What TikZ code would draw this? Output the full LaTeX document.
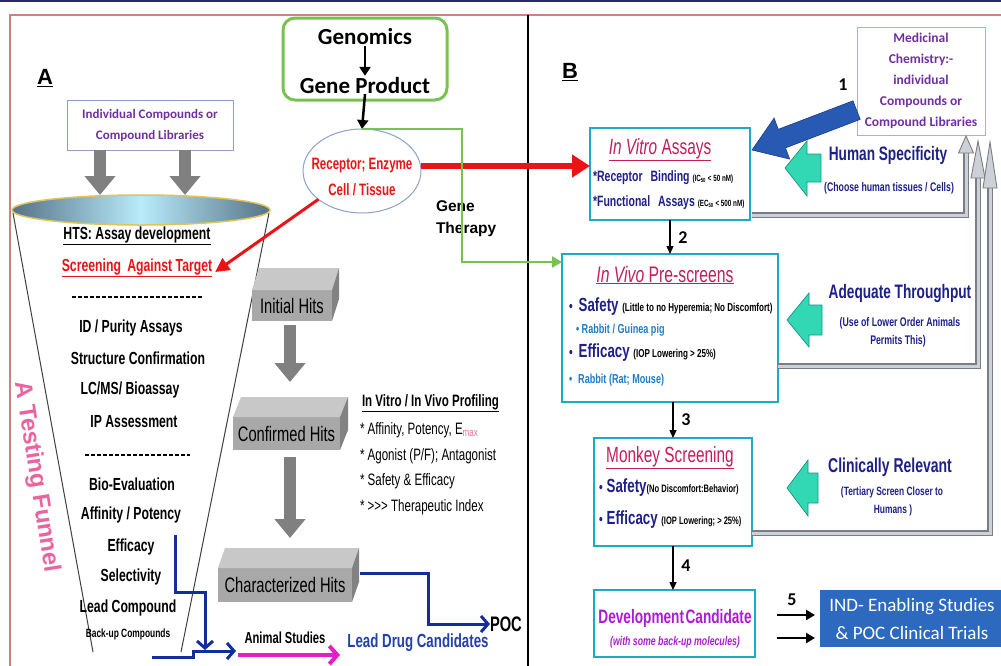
\documentclass[tikz,border=0pt]{standalone}
\usepackage{fontspec}
\setmainfont{Liberation Sans}
\newfontfamily\narrow[FakeStretch=0.7]{Liberation Sans}
\newfontfamily\calib{Carlito}
\usetikzlibrary{arrows.meta,shapes.geometric,calc}
\definecolor{navy}{RGB}{30,32,135}
\definecolor{crim}{RGB}{195,30,90}
\definecolor{purp}{RGB}{112,48,160}
\definecolor{teal2}{RGB}{30,170,195}
\definecolor{turq}{RGB}{50,215,180}
\definecolor{turqd}{RGB}{20,150,130}
\definecolor{indblue}{RGB}{45,105,190}
\definecolor{arrblue}{RGB}{40,90,180}
\definecolor{arrblued}{RGB}{25,60,140}
\definecolor{gboxc}{RGB}{120,195,80}
\definecolor{redA}{RGB}{235,20,20}
\definecolor{pathblue}{RGB}{20,45,155}
\definecolor{ldcblue}{RGB}{35,65,170}
\definecolor{magA}{RGB}{230,30,200}
\definecolor{devmag}{RGB}{170,30,210}
\definecolor{ltblue}{RGB}{30,125,200}
\definecolor{pinkF}{RGB}{235,100,160}
\definecolor{bordred}{RGB}{205,130,130}
\definecolor{topnavy}{RGB}{40,40,110}
\definecolor{cmpbox}{RGB}{140,160,200}
\definecolor{medbox}{RGB}{120,200,215}
\definecolor{gold}{RGB}{225,195,90}
\definecolor{slate}{RGB}{85,115,135}
\definecolor{lcyan}{RGB}{185,235,250}
\definecolor{hitfront}{RGB}{168,168,168}
\definecolor{hittop}{RGB}{200,200,200}
\definecolor{hitside}{RGB}{130,130,130}
\definecolor{arrgray}{RGB}{128,128,128}
\definecolor{fbdark}{RGB}{120,125,135}
\definecolor{fblight}{RGB}{205,208,212}
\newcommand\fsz[1]{\fontsize{#1}{\dimexpr #1pt*6/5\relax}\selectfont}
\begin{document}
\begin{tikzpicture}[x=1pt,y=-1pt,
  every node/.style={inner sep=0pt,outer sep=0pt},
  ft/.style={font=\narrow\bfseries\fsz{17.5}},
  hit/.style={fill=hitfront, font=\narrow\fsz{21}},
  grayarr/.style={draw=arrgray, line width=12pt, -{Triangle[width=30pt,length=19pt]}},
  blk/.style={draw=black, line width=2.5pt, -{Triangle[width=11pt,length=9pt]}},
  thinblk/.style={draw=black, line width=1.3pt, -{Triangle[width=7pt,length=8pt]}},
  bpath/.style={draw=pathblue, line width=3pt, -{Straight Barb[length=7pt,width=16pt]}},
  fb/.style={draw=fbdark, line width=1.1pt, double=fblight, double distance=3pt},
  fbhead/.style={fill=fblight, draw=fbdark, line width=0.9pt},
  tq/.style={fill=turq, draw=turqd, line width=0.7pt},
  stage/.style={draw=teal2, line width=2.5pt},
  num/.style={font=\calib\bfseries\fsz{18}},
  funl/.style={draw=black!75, line width=1pt},
]
\useasboundingbox (0,0) rectangle (1001,665);
\fill[white] (0,0) rectangle (1001,665);
\draw[topnavy, line width=2.5pt] (0,1) -- (1001,1);
\draw[bordred, line width=1.2pt] (10,667) -- (10,15) -- (1003,15);
\draw[black, line width=1.3pt] (528,15) -- (528,667);

% ================= A =================
\node[font=\bfseries\fsz{22}] (labA) at (45,78) {\underline{A}};
\node[draw=cmpbox, line width=1pt, minimum width=166, minimum height=50, align=center, text=purp, font=\calib\bfseries\fontsize{13}{21}\selectfont] (cmp) at (150,125) {Individual Compounds or\\Compound Libraries};

% funnel
\draw[funl] (13,213) -- (93,652);
\draw[funl] (269,213) -- (181,652);
\node[ellipse, minimum width=258, minimum height=30, draw=gold, line width=1.5pt, left color=slate, right color=slate, middle color=lcyan] (ftop) at (141,210) {};
\draw[grayarr] ([xshift=-50]cmp.south) -- ([xshift=-50]cmp.south |- ftop.north);
\draw[grayarr] ([xshift=35]cmp.south) -- ([xshift=35]cmp.south |- ftop.north);

\node[ft] (hts) at (137,236) {\underline{HTS: Assay development}};
\node[ft, text=redA] (scr) at (137,268) {\underline{Screening\, Against Target}};
\draw[dash pattern=on 4pt off 2pt, line width=1.3pt] (72,297) -- (203,297);
\node[ft] (id) at (131,328) {ID / Purity Assays};
\node[ft] (sc) at (138,358) {Structure Confirmation};
\node[ft] (lc) at (130,390) {LC/MS/ Bioassay};
\node[ft] (ip) at (134,422) {IP Assessment};
\draw[dash pattern=on 4pt off 2pt, line width=1.3pt] (85,455) -- (190,455);
\node[ft] (bio) at (132,484) {Bio-Evaluation};
\node[ft] (aff) at (131,515) {Affinity / Potency};
\node[ft] (eff) at (131,547) {Efficacy};
\node[ft] (sel) at (131,577) {Selectivity};
\node[ft] (lead) at (128,608) {Lead Compound};
\node[font=\narrow\bfseries\fsz{12}] (bup) at (128,634) {Back-up Compounds};

\node[rotate=-81, text=pinkF, font=\bfseries\fsz{24}] (atf) at (36,477) {A Testing Funnel};

% 3D hit boxes
\node[hit, minimum width=80, minimum height=31] (ih) at (292,305.5) {Initial Hits};
\fill[hittop] (ih.north west) -- ++(7,-22) -- ([shift={(7,-22)}]ih.north east) -- (ih.north east) -- cycle;
\fill[hitside] (ih.north east) -- ++(7,-22) -- ([shift={(7,-22)}]ih.south east) -- (ih.south east) -- cycle;
\node[hit, minimum width=107, minimum height=33] (cf) at (286.5,433.5) {Confirmed Hits};
\fill[hittop] (cf.north west) -- ++(8,-20) -- ([shift={(8,-20)}]cf.north east) -- (cf.north east) -- cycle;
\fill[hitside] (cf.north east) -- ++(8,-20) -- ([shift={(8,-20)}]cf.south east) -- (cf.south east) -- cycle;
\node[hit, minimum width=134, minimum height=34] (chz) at (285,585) {Characterized Hits};
\fill[hittop] (chz.north west) -- ++(7,-20) -- ([shift={(7,-20)}]chz.north east) -- (chz.north east) -- cycle;
\fill[hitside] (chz.north east) -- ++(7,-20) -- ([shift={(7,-20)}]chz.south east) -- (chz.south east) -- cycle;
\draw[grayarr, shorten <=4pt, shorten >=35pt] (ih.south -| 290,0) -- (cf.north -| 290,0);
\draw[grayarr, shorten <=7pt, shorten >=30pt] (cf.south -| 290,0) -- (chz.north -| 290,0);

% profiling
\node[anchor=west, font=\narrow\bfseries\fsz{16.5}] (prof) at (362,403) {\underline{In Vitro / In Vivo Profiling}};
\node[anchor=west, font=\narrow\fsz{16.5}] (p1) at (360,430) {* Affinity, Potency, E\textsubscript{\color{crim!60}max}};
\node[anchor=west, font=\narrow\fsz{16.5}] (p2) at (360,456) {* Agonist (P/F); Antagonist};
\node[anchor=west, font=\narrow\fsz{16.5}] (p3) at (360,481) {* Safety \& Efficacy};
\node[anchor=west, font=\narrow\fsz{16.5}] (p4) at (360,507) {* >{}>{}> Therapeutic Index};

% blue paths, POC, animal studies
\node[anchor=west, font=\narrow\bfseries\fsz{21}] (poc) at (490,624) {POC};
\node[font=\narrow\bfseries\fsz{16}] (anim) at (285,638) {Animal Studies};
\node[text=ldcblue, font=\narrow\bfseries\fsz{19}] (ldc) at (418,643) {Lead Drug Candidates};
\coordinate (c1) at ([shift={(8,-12)}]chz.east);
\draw[bpath] (c1) -- (428,573) |- (poc.west);
\coordinate (e1) at (175,535);
\coordinate (e2) at (205,650);
\draw[bpath] (e1) -- (175,592) -- (205,592) -- (e2);
\coordinate (f1) at (152,657);
\coordinate (f2) at (236,651);
\draw[bpath] (f1) -- (193,657) -- (193,651) -- (f2);
\coordinate (m1) at (238,655);
\coordinate (m2) at (340,655);
\draw[magA, line width=4pt, -{Straight Barb[length=8pt,width=18pt]}] (m1) -- (m2);

% genomics
\node[draw=gboxc, line width=3pt, rounded corners=12pt, minimum width=164, minimum height=82] (gbox) at (365,59) {};
\node[font=\calib\bfseries\fsz{23}] (gen) at (365,37) {Genomics};
\node[font=\calib\bfseries\fsz{23}] (gprod) at (365,86) {Gene Product};
\draw[blk, shorten <=1pt, shorten >=2pt] (gen.south) -- (gprod.north);
\node[ellipse, draw=cmpbox, line width=1pt, minimum width=118, minimum height=84] (rec) at (362,171) {};
\node[align=center, text=redA, font=\narrow\bfseries\fontsize{16.5}{26}\selectfont] (recT) at (362,177) {Receptor; Enzyme\\Cell / Tissue};
\draw[blk] (gprod.south) -- (rec.north);
\node[anchor=west, align=left, font=\bfseries\fontsize{15.5}{22}\selectfont] (gth) at (436,219) {Gene\\Therapy};

% ================= B =================
\node[font=\bfseries\fsz{22}] (labB) at (570,72) {\underline{B}};
\node[draw=medbox, line width=1pt, minimum width=128, minimum height=108, align=center, text=purp, font=\calib\bfseries\fontsize{13.5}{21}\selectfont] (med) at (921,81) {Medicinal\\Chemistry:-\\individual\\Compounds or\\Compound Libraries};
\node[num] (n1) at (843,85) {1};

% stage boxes
\node[stage, minimum width=160, minimum height=92] (ivt) at (670,174) {};
\node[stage, minimum width=216, minimum height=148] (ivv) at (670,328) {};
\node[stage, minimum width=158, minimum height=108] (mky) at (673,492) {};
\node[stage, minimum width=161, minimum height=67] (dev) at (674.5,623.5) {};
\node[fill=indblue, minimum width=184, minimum height=57, align=center, text=white, font=\calib\fontsize{19}{28}\selectfont] (ind) at (912,618.5) {IND- Enabling Studies\\\& POC Clinical Trials};

% feedback lines
\draw[fb] ([shift={(2,-5)}]ivt.south east) -| (966,152);
\draw[fbhead] (966,136) -- (958.5,153) -- (973.5,153) -- cycle;
\draw[fb] (ivv.east |- 0,366) -| (978,178);
\draw[fbhead] (978,141) -- (971,178) -- (985,178) -- cycle;
\draw[fb] (mky.east |- 0,533) -| (990,188);
\draw[fbhead] (990,142) -- (983,188) -- (997,188) -- cycle;

% in vitro text
\node[text=crim, font=\narrow\fsz{22}] (ivtT) at (660,150) {\underline{\textit{In Vitro} Assays}};
\node[anchor=west, text=navy, font=\narrow\bfseries\fsz{15}] (rb) at (593,178) {*Receptor\,\, Binding {\fsz{9}\color{black}(IC\textsubscript{50} < 50 nM)}};
\node[anchor=west, text=navy, font=\narrow\bfseries\fsz{15}] (fa) at (593,203) {*Functional\,\, Assays {\fsz{9}\color{black}(EC\textsubscript{50} < 500 nM)}};

% in vivo text
\node[text=crim, font=\narrow\fsz{22.5}] (ivvT) at (665,275) {\underline{\textit{In Vivo} Pre-screens}};
\node[anchor=west, text=navy, font=\narrow\bfseries] (s1) at (569,307) {\fsz{15}•\hspace{6pt}\fsz{19}Safety {\fsz{11.5}\color{black}(Little to no Hyperemia; No Discomfort)}};
\node[anchor=west, text=ltblue, font=\narrow\bfseries\fsz{13}] (r1) at (576,330) {• Rabbit / Guinea pig};
\node[anchor=west, text=navy, font=\narrow\bfseries] (e1t) at (569,353) {\fsz{15}•\hspace{6pt}\fsz{19}Efficacy {\fsz{11.5}\color{black}(IOP Lowering > 25\%)}};
\node[anchor=west, text=ltblue, font=\narrow\bfseries\fsz{13}] (r2) at (569,380) {•\hspace{6pt}Rabbit (Rat; Mouse)};

% monkey text
\node[text=crim, font=\narrow\fsz{22}] (mkyT) at (670,458) {\underline{Monkey Screening}};
\node[anchor=west, text=navy, font=\narrow\bfseries] (s2) at (599,488) {\fsz{15}•\hspace{4pt}\fsz{19}Safety{\fsz{10.8}\color{black}(No Discomfort:Behavior)}};
\node[anchor=west, text=navy, font=\narrow\bfseries] (e2t) at (599,520) {\fsz{15}•\hspace{4pt}\fsz{19}Efficacy {\fsz{10.8}\color{black}(IOP Lowering; > 25\%)}};

% development candidate
\node[text=devmag, font=\narrow\bfseries\fsz{19.5}] (devT) at (675,618) {Development\hspace{1.5pt}Candidate};
\node[text=devmag, font=\narrow\bfseries\itshape\fsz{12.5}] (devS) at (675,642) {(with some back-up molecules)};

% side labels
\node[text=navy, font=\narrow\bfseries\fsz{19.5}] (hs) at (888,155) {Human Specificity};
\node[text=navy, font=\narrow\bfseries\fsz{12.5}] (hs2) at (889,188) {(Choose human tissues / Cells)};
\node[text=navy, font=\narrow\bfseries\fsz{19.5}] (at) at (900,293) {Adequate Throughput};
\node[text=navy, font=\narrow\bfseries\fsz{12.5}] (at2) at (900,323) {(Use of Lower Order Animals};
\node[text=navy, font=\narrow\bfseries\fsz{12.5}] (at3) at (898,341) {Permits This)};
\node[text=navy, font=\narrow\bfseries\fsz{20}] (cr) at (890,467) {Clinically Relevant};
\node[text=navy, font=\narrow\bfseries\fsz{12}] (cr2) at (892,492) {(Tertiary Screen Closer to};
\node[text=navy, font=\narrow\bfseries\fsz{12}] (cr3) at (893,510) {Humans )};

% turquoise block arrows
\draw[tq] (785,168) -- (807,141) -- (807,154) -- (821,154) -- (821,182) -- (807,182) -- (807,196) -- cycle;
\draw[tq] (787,320) -- (809,293) -- (809,305) -- (822,305) -- (822,335) -- (809,335) -- (809,347) -- cycle;
\draw[tq] (787,488) -- (808,460) -- (808,473) -- (818,473) -- (818,503) -- (808,503) -- (808,516) -- cycle;

% big blue arrow 1
\draw[fill=arrblue, draw=arrblued, line width=0.6pt] (752,150) -- (789.7,159.1) -- (785.5,147.9) -- (860.2,119.4) -- (853.0,100.8) -- (778.3,129.3) -- (774.1,118.1) -- cycle;

% red and green connectors
\draw[redA, line width=6pt, -{Triangle[width=22pt,length=18pt]}] ([yshift=5]rec.east) -- ([yshift=5]rec.east -| ivt.west);
\draw[redA, line width=3pt, -{Triangle[width=14pt,length=14pt]}] (rec.213) -- ([shift={(3,4)}]scr.east);
\coordinate (gturn) at (462,262);
\draw[gboxc, line width=2.5pt, -{Triangle[width=11pt,length=10pt]}] (rec.north) -| (gturn) -- (gturn -| ivv.west);

% stage arrows
\draw[thinblk] (ivt.south) -- (ivv.north);
\node[num] (n2) at (683,238) {2};
\draw[thinblk] ([xshift=3]ivv.south) -- (mky.north);
\node[num] (n3) at (686,420) {3};
\draw[thinblk] (mky.south) -- (mky.south |- dev.north);
\node[num] (n4) at (686,566) {4};
\draw[black, line width=2.5pt, -{Triangle[width=10pt,length=9pt]}] ([shift={(22,-8.5)}]dev.east) -- ([shift={(-5,-3.5)}]ind.west);
\draw[black, line width=2.5pt, -{Triangle[width=10pt,length=9pt]}] ([shift={(22,14.5)}]dev.east) -- ([shift={(-5,19.5)}]ind.west);
\node[num] (n5) at (792,600) {5};
\end{tikzpicture}
\end{document}
